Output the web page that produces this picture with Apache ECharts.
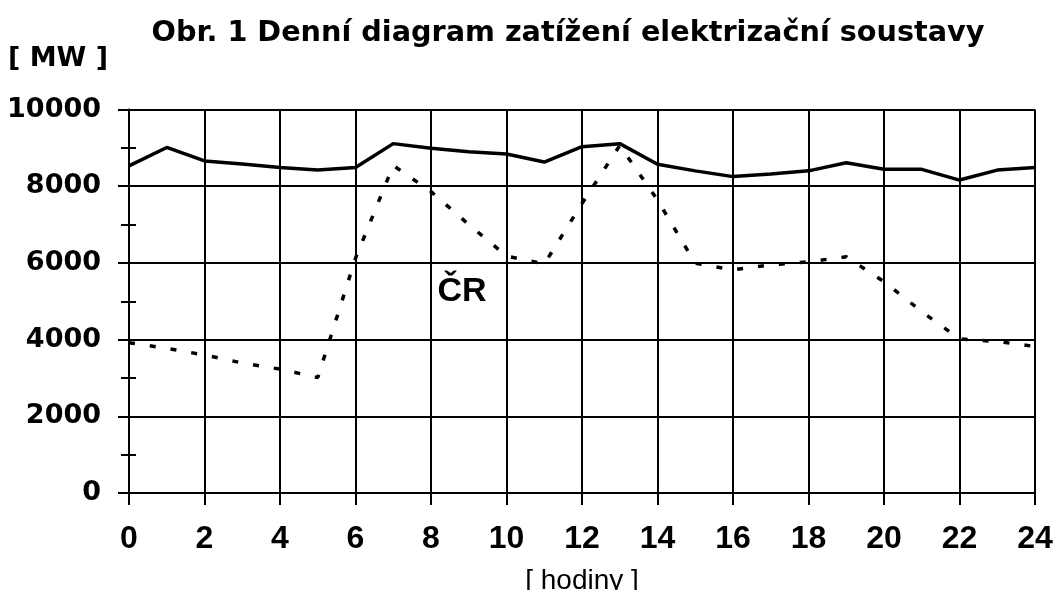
<!DOCTYPE html>
<html>
<head>
<meta charset="utf-8">
<script src="https://cdn.jsdelivr.net/npm/echarts@6/dist/echarts.min.js"></script>
<style>html,body{margin:0;padding:0;background:#fff}#c{width:1055px;height:590px}</style>
</head>
<body>
<div id="c"></div>
<script>
const hours = [0,1,2,3,4,5,6,7,8,9,10,11,12,13,14,15,16,17,18,19,20,21,22,23,24];
const totalLoad = [8530,9010,8660,8580,8490,8420,8490,9110,8990,8900,8840,8630,9030,9110,8570,8400,8250,8320,8400,8610,8440,8440,8160,8420,8490];
const crLoad = [3920,3770,3600,3390,3230,3010,6120,8540,7860,7000,6180,5970,7550,9060,7640,5990,5820,5950,6030,6160,5510,4730,4020,3950,3820];
const crLabel = {text: 'ČR', x: 8.82, y: 5250};
const titleText = 'Obr. 1 Denní diagram zatížení elektrizační soustavy';
const yUnit = '[ MW ]';
const xUnit = '[ hodiny ]';

const chart = echarts.init(document.getElementById('c'), null, {renderer: 'canvas'});
chart.setOption({
  animation: false,
  backgroundColor: '#fff',
  title: [
    {text: titleText, left: 563, top: 14, textAlign: 'center',
     textStyle: {fontFamily: 'DejaVu Sans', fontWeight: 'bold', fontSize: 28.7, color: '#000'}},
    {text: yUnit, left: 3, top: 40,
     textStyle: {fontFamily: 'DejaVu Sans', fontWeight: 'bold', fontSize: 27, color: '#000'}}
  ],
  grid: {left: 129, right: 20, top: 109.5, bottom: 97, outerBoundsMode: 'none', containLabel: false},
  xAxis: {
    type: 'value', min: 0, max: 24, interval: 2,
    name: xUnit, nameLocation: 'middle', nameGap: 74,
    nameTextStyle: {fontFamily: 'Liberation Sans', fontSize: 28, color: '#000'},
    axisLine: {lineStyle: {color: '#000', width: 2}},
    axisTick: {show: true, length: 12, lineStyle: {color: '#000', width: 2}},
    axisLabel: {fontFamily: 'Liberation Sans', fontWeight: 'bold', fontSize: 32, color: '#000', margin: 30},
    splitLine: {show: true, lineStyle: {color: '#000', width: 2}}
  },
  yAxis: [{
    type: 'value', min: 0, max: 10000, interval: 2000,
    axisLine: {show: true, lineStyle: {color: '#000', width: 2}},
    axisTick: {show: true, length: 11, lineStyle: {color: '#000', width: 2}},
    minorTick: {show: true, splitNumber: 2, length: 8, lineStyle: {color: '#000', width: 2}},
    axisLabel: {fontFamily: 'DejaVu Sans', fontWeight: 'bold', fontSize: 27, color: '#000', margin: 28,
                formatter: v => String(v)},
    splitLine: {show: true, lineStyle: {color: '#000', width: 2}}
  }, {
    type: 'value', min: 0, max: 10000, interval: 2000, position: 'left',
    axisLine: {show: false}, axisLabel: {show: false}, splitLine: {show: false},
    axisTick: {show: true, inside: true, length: 1, lineStyle: {color: '#000', width: 2}},
    minorTick: {show: true, splitNumber: 2, length: 7, lineStyle: {color: '#000', width: 2}}
  }],
  series: [
    {type: 'line', data: hours.map((h,i)=>[h,totalLoad[i]]), symbol: 'none',
     lineStyle: {color: '#000', width: 3.5}},
    {type: 'line', data: hours.map((h,i)=>[h,crLoad[i]]), symbol: 'none',
     lineStyle: {color: '#000', width: 3.5, type: [6, 15]},
     markPoint: {symbol: 'circle', symbolSize: 0,
       data: [{coord: [crLabel.x, crLabel.y], value: crLabel.text}],
       label: {show: true, formatter: crLabel.text, fontFamily: 'Liberation Sans', fontWeight: 'bold', fontSize: 34, color: '#000'}}}
  ]
});
</script>
</body>
</html>
